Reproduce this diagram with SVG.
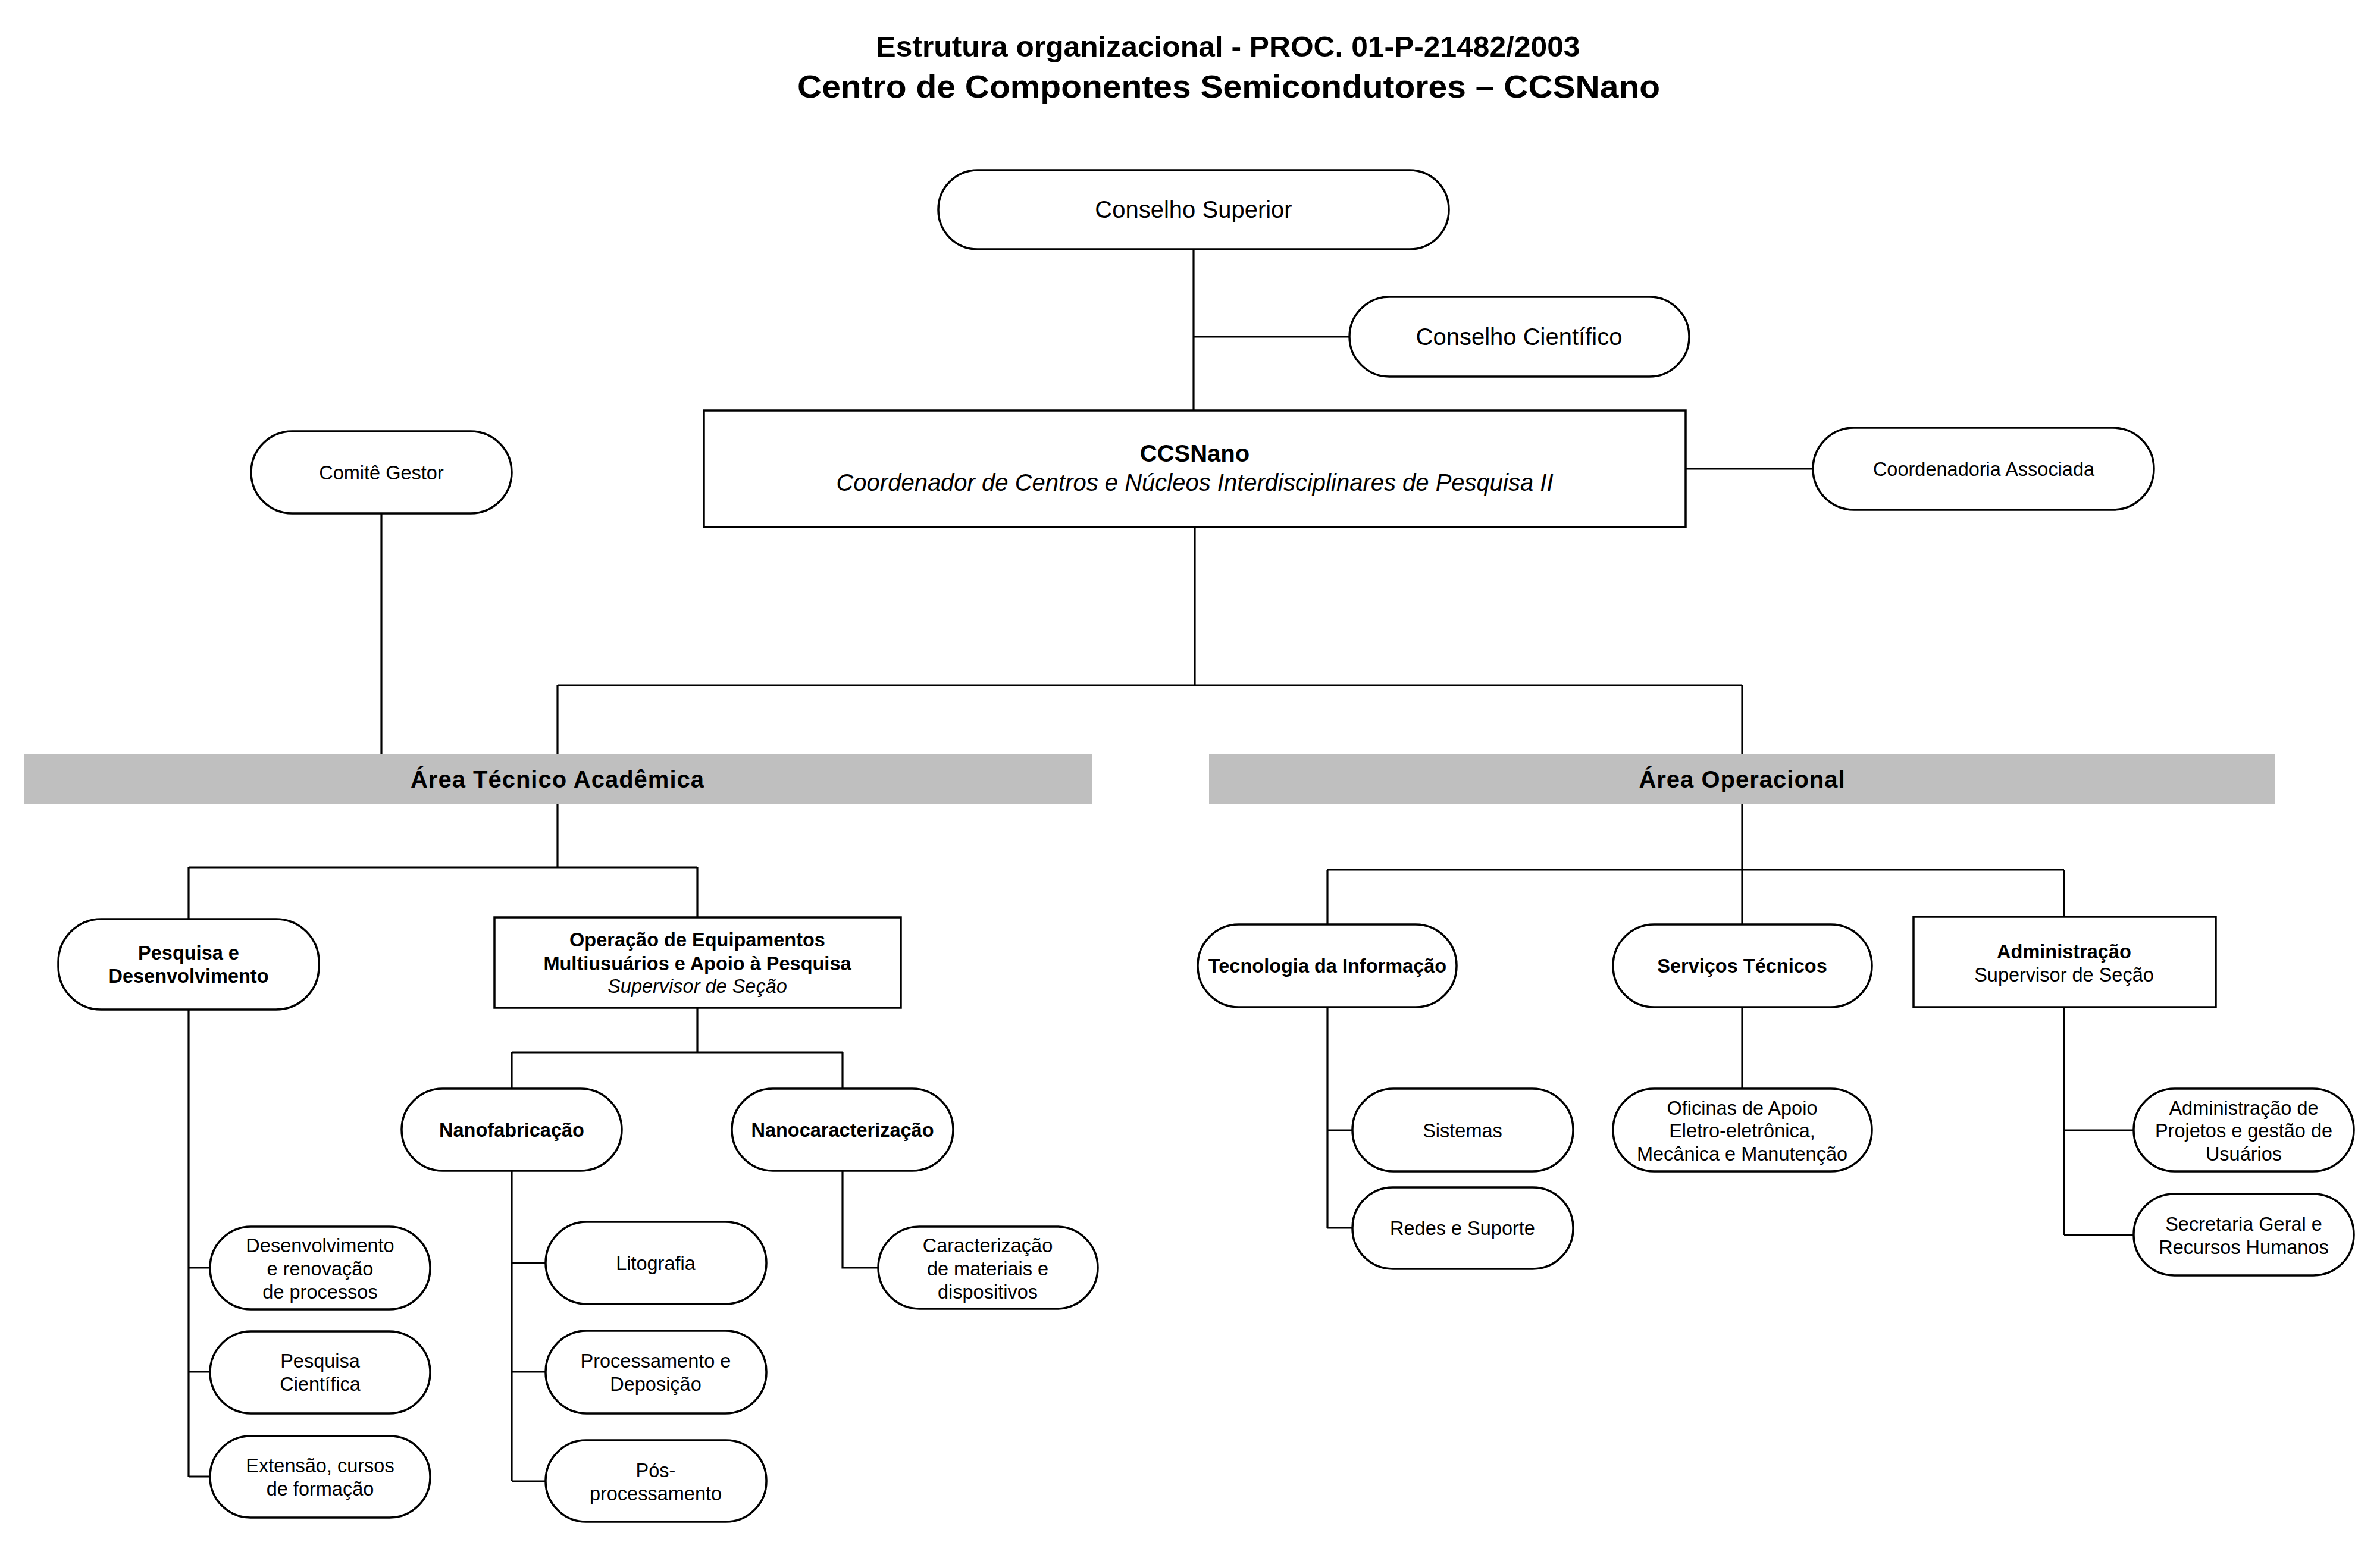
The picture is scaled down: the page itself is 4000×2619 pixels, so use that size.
<svg xmlns="http://www.w3.org/2000/svg" width="4000" height="2619" viewBox="0 0 4000 2619">
<style>
.bg{fill:#ffffff}
.n{fill:#ffffff;stroke:#000000;stroke-width:3.5}
.band{fill:#bfbfbf}
.c{fill:none;stroke:#000000;stroke-width:3.2}
text{font-family:"Liberation Sans",Arial,sans-serif;fill:#000000;text-anchor:middle}
.t40{font-size:40px}
.t33{font-size:32.5px}
.b{font-weight:bold}
.i{font-style:italic}
.title{font-weight:bold}
.area{font-size:40px;font-weight:bold;letter-spacing:1px}
</style>
<rect class="bg" x="0" y="0" width="4000" height="2619"/>

<g id="title">
<text class="title" x="2064" y="95" font-size="49" textLength="1183" lengthAdjust="spacingAndGlyphs">Estrutura organizacional - PROC. 01-P-21482/2003</text>
<text class="title" x="2065" y="164" font-size="54" textLength="1450" lengthAdjust="spacingAndGlyphs">Centro de Componentes Semicondutores – CCSNano</text>
</g>

<g id="connectors">
<path class="c" d="M2006,419 V690 M2006,566 H2268"/>
<path class="c" d="M2833,788 H3047"/>
<path class="c" d="M641,863 V1268"/>
<path class="c" d="M2008,886 V1152 M937,1152 H2928 M937,1152 V1268 M2928,1152 V1268"/>
<path class="c" d="M937,1351 V1458 M317,1458 H1172 M317,1458 V1545 M1172,1458 V1542"/>
<path class="c" d="M317,1697 V2482 M317,2131 H353 M317,2306 H353 M317,2482 H353"/>
<path class="c" d="M1172,1694 V1769 M860,1769 H1416 M860,1769 V1830 M1416,1769 V1830"/>
<path class="c" d="M860,1968 V2490 M860,2123 H917 M860,2306 H917 M860,2490 H917"/>
<path class="c" d="M1416,1968 V2131 H1476"/>
<path class="c" d="M2928,1351 V1554 M2231,1462 H3469 M2231,1462 V1554 M3469,1462 V1541"/>
<path class="c" d="M2231,1693 V2064 M2231,1900 H2273 M2231,2064 H2273"/>
<path class="c" d="M2928,1693 V1830"/>
<path class="c" d="M3469,1693 V2076 M3469,1900 H3586 M3469,2076 H3586"/>
</g>

<g id="conselho-superior">
<rect class="n" x="1577" y="286" width="858" height="133" rx="66" ry="66"/>
<text class="t40" x="2006" y="366">Conselho Superior</text>
</g>

<g id="conselho-cientifico">
<rect class="n" x="2268" y="499" width="571" height="134" rx="67" ry="67"/>
<text class="t40" x="2553" y="580">Conselho Científico</text>
</g>

<g id="ccsnano">
<rect class="n" x="1183" y="690" width="1650" height="196"/>
<text class="t40 b" x="2008" y="776">CCSNano</text>
<text class="t40 i" x="2008" y="825">Coordenador de Centros e Núcleos Interdisciplinares de Pesquisa II</text>
</g>

<g id="coordenadoria-associada">
<rect class="n" x="3047" y="719" width="573" height="138" rx="69" ry="69"/>
<text class="t33" x="3334" y="800">Coordenadoria Associada</text>
</g>

<g id="comite-gestor">
<rect class="n" x="422" y="725" width="438" height="138" rx="69" ry="69"/>
<text class="t33" x="641" y="806">Comitê Gestor</text>
</g>

<g id="area-tecnico-academica">
<rect class="band" x="41" y="1268" width="1795" height="83"/>
<text class="area" x="937" y="1324">Área Técnico Acadêmica</text>
</g>

<g id="area-operacional">
<rect class="band" x="2032" y="1268" width="1791" height="83"/>
<text class="area" x="2928" y="1324">Área Operacional</text>
</g>

<g id="pesquisa-desenvolvimento">
<rect class="n" x="98" y="1545" width="438" height="152" rx="72" ry="72"/>
<text class="t33 b" x="317" y="1613">Pesquisa e</text>
<text class="t33 b" x="317" y="1652">Desenvolvimento</text>
</g>

<g id="operacao-equipamentos">
<rect class="n" x="831" y="1542" width="683" height="152"/>
<text class="t33 b" x="1172" y="1591">Operação de Equipamentos</text>
<text class="t33 b" x="1172" y="1631">Multiusuários e Apoio à Pesquisa</text>
<text class="t33 i" x="1172" y="1669">Supervisor de Seção</text>
</g>

<g id="nanofabricacao">
<rect class="n" x="675" y="1830" width="370" height="138" rx="69" ry="69"/>
<text class="t33 b" x="860" y="1911">Nanofabricação</text>
</g>

<g id="nanocaracterizacao">
<rect class="n" x="1230" y="1830" width="372" height="138" rx="69" ry="69"/>
<text class="t33 b" x="1416" y="1911">Nanocaracterização</text>
</g>

<g id="desenvolvimento-renovacao">
<rect class="n" x="353" y="2062" width="370" height="139" rx="69" ry="69"/>
<text class="t33" x="538" y="2105">Desenvolvimento</text>
<text class="t33" x="538" y="2144">e renovação</text>
<text class="t33" x="538" y="2183">de processos</text>
</g>

<g id="pesquisa-cientifica">
<rect class="n" x="353" y="2238" width="370" height="138" rx="69" ry="69"/>
<text class="t33" x="538" y="2299">Pesquisa</text>
<text class="t33" x="538" y="2338">Científica</text>
</g>

<g id="extensao">
<rect class="n" x="353" y="2414" width="370" height="137" rx="68" ry="68"/>
<text class="t33" x="538" y="2475">Extensão, cursos</text>
<text class="t33" x="538" y="2514">de formação</text>
</g>

<g id="litografia">
<rect class="n" x="917" y="2054" width="371" height="138" rx="69" ry="69"/>
<text class="t33" x="1102" y="2135">Litografia</text>
</g>

<g id="processamento-deposicao">
<rect class="n" x="917" y="2237" width="371" height="139" rx="69" ry="69"/>
<text class="t33" x="1102" y="2299">Processamento e</text>
<text class="t33" x="1102" y="2338">Deposição</text>
</g>

<g id="pos-processamento">
<rect class="n" x="917" y="2421" width="371" height="137" rx="68" ry="68"/>
<text class="t33" x="1102" y="2483">Pós-</text>
<text class="t33" x="1102" y="2522">processamento</text>
</g>

<g id="caracterizacao">
<rect class="n" x="1476" y="2062" width="369" height="138" rx="69" ry="69"/>
<text class="t33" x="1660" y="2105">Caracterização</text>
<text class="t33" x="1660" y="2144">de materiais e</text>
<text class="t33" x="1660" y="2183">dispositivos</text>
</g>

<g id="tecnologia-informacao">
<rect class="n" x="2013" y="1554" width="435" height="139" rx="69" ry="69"/>
<text class="t33 b" x="2231" y="1635">Tecnologia da Informação</text>
</g>

<g id="servicos-tecnicos">
<rect class="n" x="2711" y="1554" width="435" height="139" rx="69" ry="69"/>
<text class="t33 b" x="2928" y="1635">Serviços Técnicos</text>
</g>

<g id="administracao">
<rect class="n" x="3216" y="1541" width="508" height="152"/>
<text class="t33 b" x="3469" y="1611">Administração</text>
<text class="t33" x="3469" y="1650">Supervisor de Seção</text>
</g>

<g id="sistemas">
<rect class="n" x="2273" y="1830" width="371" height="139" rx="69" ry="69"/>
<text class="t33" x="2458" y="1912">Sistemas</text>
</g>

<g id="redes-suporte">
<rect class="n" x="2273" y="1996" width="371" height="137" rx="68" ry="68"/>
<text class="t33" x="2458" y="2076">Redes e Suporte</text>
</g>

<g id="oficinas-apoio">
<rect class="n" x="2711" y="1830" width="435" height="139" rx="69" ry="69"/>
<text class="t33" x="2928" y="1874">Oficinas de Apoio</text>
<text class="t33" x="2928" y="1912">Eletro-eletrônica,</text>
<text class="t33" x="2928" y="1951">Mecânica e Manutenção</text>
</g>

<g id="administracao-projetos">
<rect class="n" x="3586" y="1830" width="370" height="139" rx="69" ry="69"/>
<text class="t33" x="3771" y="1874">Administração de</text>
<text class="t33" x="3771" y="1912">Projetos e gestão de</text>
<text class="t33" x="3771" y="1951">Usuários</text>
</g>

<g id="secretaria-geral">
<rect class="n" x="3586" y="2007" width="370" height="137" rx="68" ry="68"/>
<text class="t33" x="3771" y="2069">Secretaria Geral e</text>
<text class="t33" x="3771" y="2108">Recursos Humanos</text>
</g>
</svg>
